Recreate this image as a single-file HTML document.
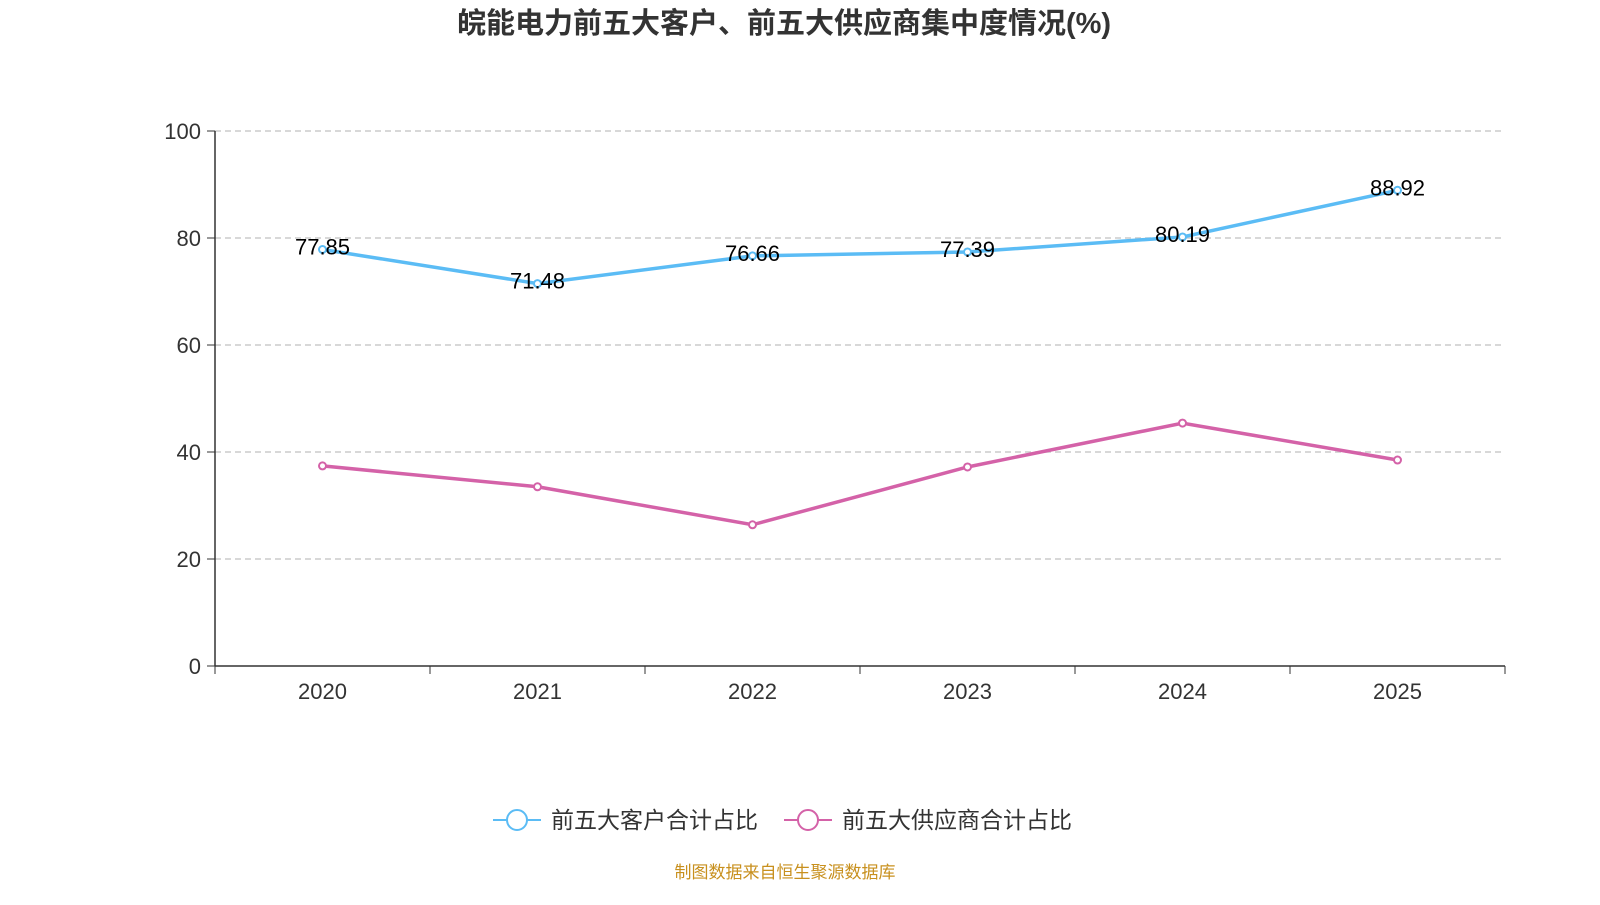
<!DOCTYPE html>
<html><head><meta charset="utf-8"><style>
body{margin:0;background:#fff;width:1600px;height:900px;overflow:hidden;font-family:"Liberation Sans","Noto Sans CJK SC",sans-serif}
</style></head><body>
<svg id="chart" width="1600" height="900" style="font-family:'Liberation Sans','Noto Sans CJK SC',sans-serif">
<text x="784" y="33" text-anchor="middle" font-size="29" font-weight="bold" fill="#333">皖能电力前五大客户、前五大供应商集中度情况(%)</text>
<g id="grid"></g><g id="axes"></g><g id="series"></g>
<g>
<g>
<line x1="493" y1="820" x2="541" y2="820" stroke="#5bbcf5" stroke-width="2"/>
<circle cx="517" cy="820" r="10" fill="#fff" stroke="#5bbcf5" stroke-width="2"/>
<text x="551" y="828" font-size="23" fill="#333">前五大客户合计占比</text></g>
<g>
<line x1="784" y1="820" x2="832" y2="820" stroke="#d462a8" stroke-width="2"/>
<circle cx="808" cy="820" r="10" fill="#fff" stroke="#d462a8" stroke-width="2"/>
<text x="842" y="828" font-size="23" fill="#333">前五大供应商合计占比</text></g>
</g>
<text x="785" y="878" text-anchor="middle" font-size="17" fill="#c8901e">制图数据来自恒生聚源数据库</text>
</svg>
<script>
const categories=["2020","2021","2022","2023","2024","2025"];
const customers=[77.85,71.48,76.66,77.39,80.19,88.92];
const suppliers=[37.4,33.5,26.4,37.2,45.4,38.5];
const yTicks=[0,20,40,60,80,100];
const NS="http://www.w3.org/2000/svg";
const x0=215,x1=1505,yTop=131,yBot=666;
const bw=(x1-x0)/categories.length;
const xS=i=>x0+bw*(i+0.5);
const yS=v=>yBot-(v/100)*(yBot-yTop);
function mk(tag,attrs,parent,txt){const e=document.createElementNS(NS,tag);for(const k in attrs)e.setAttribute(k,attrs[k]);if(txt!==undefined)e.textContent=txt;parent.appendChild(e);return e;}
const grid=document.getElementById('grid'),axes=document.getElementById('axes'),series=document.getElementById('series');
yTicks.forEach(t=>{
  const y=yS(t);
  if(t>0){const g=mk('line',{x1:x0,x2:x1,y1:y,y2:y,stroke:'#ccc','stroke-dasharray':'6,4','stroke-width':1.5},grid);
  
  }
  mk('line',{x1:x0-8,x2:x0,y1:y,y2:y,stroke:'#333'},axes);
  const l=mk('text',{x:x0-14,y:y+8,'text-anchor':'end','font-size':22,fill:'#333'},axes,t);
  
  
});
const ya=mk('line',{x1:x0,x2:x0,y1:yTop,y2:yBot,stroke:'#333','stroke-width':1.5},axes);


const xa=mk('line',{x1:x0,x2:x1,y1:yBot,y2:yBot,stroke:'#333','stroke-width':1.5},axes);


for(let i=0;i<=categories.length;i++){mk('line',{x1:x0+bw*i,x2:x0+bw*i,y1:yBot,y2:yBot+8,stroke:'#333'},axes);}
categories.forEach((c,i)=>{
  const l=mk('text',{x:xS(i),y:yBot+33,'text-anchor':'middle','font-size':22,fill:'#333'},axes,c);
  
  
});
function draw(vals,color,name,labels){
  const p=mk('polyline',{points:vals.map((v,i)=>xS(i)+','+yS(v)).join(' '),fill:'none',stroke:color,'stroke-width':3.5},series);
  
  
  vals.forEach((v,i)=>{
    const c=mk('circle',{cx:xS(i),cy:yS(v),r:3.5,fill:'#fff',stroke:color,'stroke-width':2},series);
    
    
    if(labels){const t=mk('text',{x:xS(i),y:yS(v)+5,'text-anchor':'middle','font-size':22,fill:'#000'},series,v.toFixed(2));
    
    }
  });
}
draw(suppliers,'#d462a8','suppliers',false);
draw(customers,'#5bbcf5','customers',true);
</script>
</body></html>
